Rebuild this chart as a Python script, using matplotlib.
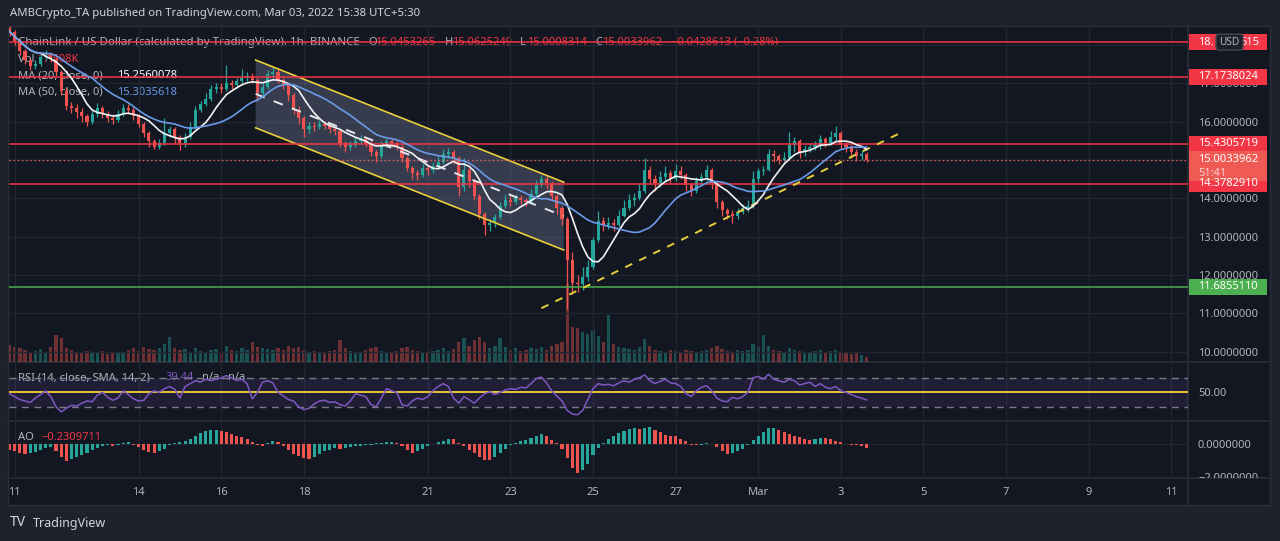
import numpy as np
import pandas as pd
import matplotlib
matplotlib.use("Agg")
import matplotlib.pyplot as plt
from matplotlib.patches import Rectangle, FancyBboxPatch
from matplotlib.transforms import Bbox, TransformedBbox

plt.rcParams['font.family'] = ['Noto Sans', 'DejaVu Sans']

# ---------------- data (3-hour candles) ----------------
first_open = 18.45
closes = [
    18.35, 18.10, 17.85, 17.60, 17.45, 17.50, 17.70, 17.75, 17.65, 17.30,
    16.80, 16.40, 16.35, 16.25, 16.15, 16.00, 16.20, 16.35, 16.20, 16.10,
    16.05, 16.20, 16.35, 16.30, 16.15, 15.95, 15.70, 15.50, 15.35, 15.45,
    15.70, 15.80, 15.60, 15.45, 15.60, 15.85, 16.30, 16.45, 16.60, 16.85,
    16.90, 16.85, 17.00, 16.95, 17.05, 17.15, 17.20, 17.10, 16.75, 16.90,
    17.25, 17.30, 17.10, 16.95, 16.70, 16.30, 16.10, 15.80, 15.90, 15.85,
    15.95, 15.90, 15.80, 15.75, 15.45, 15.35, 15.40, 15.50, 15.55, 15.45,
    15.20, 15.10, 15.40, 15.50, 15.45, 15.35, 15.05, 14.80, 14.65, 14.60,
    14.80, 14.75, 14.85, 14.95, 15.15, 15.20, 15.05, 14.30, 14.75, 14.45,
    14.05, 13.60, 13.30, 13.35, 13.50, 13.80, 13.95, 13.90, 14.00, 13.95,
    13.90, 14.10, 14.35, 14.50, 14.40, 14.05, 13.75, 13.45, 12.40, 11.80,
    11.75, 11.95, 12.20, 12.90, 13.40, 13.30, 13.35, 13.30, 13.55, 13.75,
    13.95, 14.00, 14.20, 14.75, 14.50, 14.40, 14.55, 14.65, 14.50, 14.70,
    14.60, 14.35, 14.20, 14.45, 14.55, 14.75, 14.40, 13.90, 13.70, 13.60,
    13.55, 13.65, 13.75, 13.80, 14.50, 14.70, 14.75, 15.15, 15.10, 15.00,
    15.05, 15.40, 15.50, 15.20, 15.30, 15.35, 15.40, 15.55, 15.45, 15.60,
    15.70, 15.40, 15.35, 15.20, 15.10, 15.15, 15.0034]
highs = [
    18.50, 18.40, 18.15, 17.90, 17.65, 17.60, 17.82, 17.88, 17.82, 17.70,
    17.35, 16.90, 16.52, 16.45, 16.35, 16.20, 16.30, 16.50, 16.42, 16.28,
    16.20, 16.30, 16.47, 16.45, 16.38, 16.20, 16.00, 15.75, 15.55, 15.55,
    16.10, 15.90, 15.85, 15.65, 15.70, 16.00, 16.40, 16.55, 16.75, 16.95,
    17.00, 17.00, 17.48, 17.10, 17.15, 17.37, 17.30, 17.28, 17.15, 17.00,
    17.35, 17.43, 17.40, 17.15, 17.00, 16.75, 16.40, 16.15, 16.00, 16.00,
    16.05, 16.02, 15.95, 15.90, 15.80, 15.50, 15.50, 15.60, 15.65, 15.60,
    15.50, 15.25, 15.50, 15.58, 15.55, 15.50, 15.40, 15.10, 14.85, 14.75,
    14.90, 14.90, 14.95, 15.10, 15.30, 15.32, 15.25, 15.10, 15.05, 14.80,
    14.50, 14.10, 13.65, 13.45, 13.60, 13.90, 14.10, 14.05, 14.12, 14.08,
    14.02, 14.25, 14.48, 14.60, 14.62, 14.45, 14.10, 13.80, 13.50, 12.60,
    12.00, 12.20, 12.40, 13.00, 13.68, 13.50, 13.50, 13.45, 13.70, 13.95,
    14.10, 14.15, 14.40, 15.05, 14.85, 14.60, 14.70, 14.85, 14.75, 14.90,
    14.85, 14.65, 14.40, 14.55, 14.65, 14.88, 14.80, 14.45, 13.95, 13.75,
    13.70, 13.75, 13.85, 13.95, 14.70, 14.80, 14.85, 15.30, 15.25, 15.15,
    15.20, 15.72, 15.60, 15.55, 15.40, 15.45, 15.50, 15.65, 15.60, 15.75,
    15.88, 15.75, 15.48, 15.40, 15.30, 15.25, 15.20]
lows = [
    18.25, 18.00, 17.75, 17.50, 17.35, 17.38, 17.45, 17.62, 17.55, 17.20,
    16.70, 16.30, 16.22, 16.10, 16.00, 15.90, 15.95, 16.12, 16.10, 16.00,
    15.95, 16.00, 16.15, 16.20, 16.05, 15.85, 15.60, 15.35, 15.28, 15.30,
    15.40, 15.60, 15.45, 15.26, 15.35, 15.55, 15.80, 16.25, 16.40, 16.55,
    16.75, 16.75, 16.80, 16.85, 16.88, 17.00, 17.05, 17.00, 16.55, 16.65,
    16.85, 17.15, 17.00, 16.85, 16.55, 16.20, 15.95, 15.60, 15.70, 15.75,
    15.80, 15.80, 15.70, 15.65, 15.35, 15.20, 15.25, 15.35, 15.42, 15.35,
    15.10, 14.95, 15.05, 15.35, 15.35, 15.25, 14.95, 14.70, 14.50, 14.47,
    14.55, 14.62, 14.65, 14.80, 14.90, 15.05, 14.90, 14.05, 14.20, 14.30,
    13.95, 13.45, 13.05, 13.15, 13.25, 13.45, 13.75, 13.80, 13.85, 13.85,
    13.80, 13.85, 14.05, 14.30, 14.25, 13.95, 13.60, 13.30, 11.10, 11.50,
    11.55, 11.60, 11.85, 12.15, 12.85, 13.15, 13.20, 13.15, 13.25, 13.50,
    13.70, 13.80, 13.95, 14.15, 14.40, 14.20, 14.30, 14.45, 14.40, 14.45,
    14.50, 14.20, 14.05, 14.15, 14.35, 14.45, 14.25, 13.75, 13.55, 13.45,
    13.35, 13.45, 13.60, 13.65, 13.75, 14.40, 14.60, 14.70, 14.95, 14.90,
    14.95, 15.00, 15.20, 15.05, 15.10, 15.20, 15.25, 15.30, 15.35, 15.40,
    15.50, 15.30, 15.20, 15.05, 14.98, 15.00, 14.95]
volumes_k = [
    170, 150, 140, 120, 100, 110, 130, 100, 150,
    270, 240,
    140, 120, 100, 90, 110, 100, 90, 110, 80, 90,
    100, 90, 120, 140, 110, 150, 130, 120, 140, 180,
    250, 140, 120, 130, 100, 140, 110, 100, 120, 130,
    100, 160, 120, 110, 140, 120, 200, 150, 140, 130,
    120, 140, 120, 160, 140, 150, 120, 100, 110, 90,
    100, 110, 120, 220, 140, 110, 100, 90, 120, 140,
    150, 110, 100, 90, 110, 140, 150, 120, 110, 100,
    90, 110, 120, 140, 110, 130, 200, 240, 160, 220,
    250, 200, 140, 160, 240, 150, 120, 140, 110, 120,
    140, 130, 150, 120, 160, 180, 200,
    780, 350, 340, 300, 280, 320, 260, 200, 470, 180,
    150, 140, 130, 120, 150, 230, 160, 120, 110, 100,
    120, 110, 100, 120, 110, 100, 110, 120, 140, 160,
    130, 110, 100, 120, 110, 120, 180, 150, 270, 160,
    120, 110, 100, 140, 120, 110, 100, 90, 110, 120,
    100, 110, 120, 100, 90, 80, 90, 70, 50]
rsi_values = [
    48, 44, 40, 38, 36, 42, 47, 52, 44, 30,
    23, 28, 32, 31, 35, 38, 37, 46, 50, 43,
    39, 42, 52, 47, 41, 38, 39, 48, 52, 50,
    55, 58, 54, 42, 58, 62, 66, 64, 68, 66,
    68, 70, 73, 70, 66, 68, 62, 41, 50, 64,
    66, 63, 50, 45, 40, 38, 30, 26, 28, 34,
    38, 39, 36, 37, 33, 31, 38, 48, 46, 44,
    33, 30, 42, 55, 52, 50, 33, 31, 38, 42,
    40, 44, 52, 58, 62, 58, 42, 35, 44, 40,
    35, 42, 48, 51, 47, 50, 53, 55, 54, 57,
    56, 62, 69, 71, 63, 52, 45, 38, 25, 20,
    19, 25, 40, 55, 62, 60, 61, 59, 63, 66,
    64, 68, 70, 74, 66, 62, 65, 68, 63, 62,
    58, 48, 44, 52, 57, 59, 52, 42, 38, 37,
    43, 41, 44, 50, 70, 72, 68, 75, 68, 66,
    64, 68, 66, 60, 62, 64, 58, 62, 57, 55,
    58, 52, 50, 47, 44, 42, 39.44]
ao_values = [
    -0.35, -0.45, -0.55, -0.60, -0.58, -0.50, -0.38, -0.25, -0.20, -0.45,
    -0.80, -1.05, -0.95, -0.80, -0.70, -0.55, -0.40, -0.25, -0.15, -0.10,
    -0.12, -0.05, 0.05, 0.08, -0.05, -0.20, -0.35, -0.50, -0.55, -0.45,
    -0.30, -0.10, 0.05, 0.10, 0.15, 0.30, 0.50, 0.65, 0.75, 0.82,
    0.85, 0.80, 0.72, 0.60, 0.50, 0.40, 0.30, 0.10, -0.10, -0.15,
    0.05, 0.18, 0.10, -0.15, -0.40, -0.60, -0.75, -0.88, -0.92, -0.80,
    -0.60, -0.45, -0.35, -0.25, -0.30, -0.28, -0.20, -0.15, -0.12, -0.10,
    -0.05, 0.02, 0.05, 0.08, 0.10, 0.02, -0.15, -0.40, -0.55, -0.45,
    -0.30, -0.15, 0.00, 0.10, 0.20, 0.30, 0.28, 0.05, -0.15, -0.35,
    -0.55, -0.80, -0.98, -1.00, -0.80, -0.55, -0.30, -0.10, 0.05, 0.15,
    0.25, 0.35, 0.50, 0.60, 0.45, 0.25, 0.05, -0.30, -0.85, -1.45,
    -1.78, -1.60, -1.20, -0.70, -0.25, 0.05, 0.30, 0.50, 0.65, 0.78,
    0.90, 0.95, 0.90, 0.98, 1.00, 0.85, 0.70, 0.55, 0.50, 0.45,
    0.30, 0.15, -0.05, -0.10, -0.05, 0.05, 0.00, -0.20, -0.45, -0.62,
    -0.55, -0.45, -0.30, -0.10, 0.25, 0.50, 0.70, 0.95, 0.95, 0.85,
    0.70, 0.60, 0.50, 0.40, 0.30, 0.25, 0.30, 0.35, 0.33, 0.28,
    0.20, 0.10, 0.00, -0.05, -0.10, -0.15, -0.23]

start_time = '2022-02-10 21:00'
bar_freq = '3h'
tick_dates = ['2022-02-11', '2022-02-14', '2022-02-16', '2022-02-18', '2022-02-21',
              '2022-02-23', '2022-02-25', '2022-02-27', '2022-03-01', '2022-03-03',
              '2022-03-05', '2022-03-07', '2022-03-09', '2022-03-11']
tick_labels = ['11', '14', '16', '18', '21', '23', '25', '27', 'Mar', '3', '5', '7', '9', '11']
price_ticks = [10, 11, 12, 13, 14, 16, 17]     # 15 and 18 are hidden behind price labels
hidden_price_ticks = [15, 18]

resistance_levels = [18.0781515, 17.1738024, 15.4305719, 14.3782910]
support_level = 11.6855110
last_price = 15.0033962

channel_times = ['2022-02-16 20:00', '2022-02-24 07:00']
channel_upper = [17.61, 14.42]
channel_lower = [15.84, 12.65]
trend_times = ['2022-02-23 18:00', '2022-03-04 13:00']
trend_prices = [11.13, 15.76]

ma_fast_bars, ma_slow_bars = 7, 17      # 20h and 50h on 3h bars

# ---------------- derived series ----------------
T0 = pd.Timestamp('2022-02-11')
def days(ts):
    return ((pd.to_datetime(ts) - T0) / pd.Timedelta('1D'))

times = pd.date_range(start_time, periods=len(closes), freq=bar_freq)
t = np.asarray(days(times), dtype=float)
c = np.array(closes)
o = np.r_[first_open, c[:-1]]
h = np.maximum(np.array(highs), np.maximum(o, c))
l = np.minimum(np.array(lows), np.minimum(o, c))
cs = pd.Series(c)
ma20 = cs.rolling(ma_fast_bars, min_periods=1).mean().to_numpy()
ma50 = cs.rolling(ma_slow_bars, min_periods=1).mean().to_numpy()
ao_arr = np.array(ao_values)

# ---------------- style ----------------
UP, DN = '#26a69a', '#ef5350'
RED, GREEN = '#f23645', '#4caf50'
TXT, TXT2 = '#b2b5be', '#d1d4dc'
GRID = '#222631'
SEP = '#2a2e39'

W, H = 1280, 541
fig = plt.figure(figsize=(W / 100, H / 100), dpi=100, facecolor='#1e222d')

def rect(x0, y0, x1, y1):
    return [x0 / W, 1 - y1 / H, (x1 - x0) / W, (y1 - y0) / H]

CH_L, CH_R, AX_R = 9, 1188, 1270
TOP, MAIN_B, RSI_B, AO_B, TIME_B = 26, 362, 421, 478, 505
XMIN, XMAX = -0.138, 28.404

bg = fig.add_axes([0, 0, 1, 1])
bg.set_xlim(0, W); bg.set_ylim(H, 0); bg.axis('off')
bg.add_patch(Rectangle((CH_L - 1, TOP), AX_R - CH_L + 1, TIME_B - TOP,
                       fc='#131722', ec=SEP, lw=1))
for yy in (MAIN_B, RSI_B, AO_B):
    bg.plot([CH_L - 1, AX_R], [yy, yy], color=SEP, lw=1.2)
bg.plot([CH_R, CH_R], [TOP, TIME_B], color=SEP, lw=1.2)

renderer = fig.canvas.get_renderer()
def text_w(s, fs, weight='normal'):
    tt = bg.text(0, 0, s, fontsize=fs, fontweight=weight)
    w = tt.get_window_extent(renderer).width
    tt.remove()
    return w

FS = 10 * 60 / text_w('15.0453265', 10)

ticks_x = np.asarray(days(tick_dates), dtype=float)

# volume (behind candles)
vol = fig.add_axes(rect(CH_L, TOP, CH_R, MAIN_B))
vol.set_xlim(XMIN, XMAX); vol.set_ylim(0, 3360); vol.axis('off')
up = c >= o
vcols = [(0.149, 0.651, 0.604, 0.42) if u else (0.937, 0.325, 0.314, 0.42) for u in up]
vol.bar(t, volumes_k, width=0.08, color=vcols, lw=0)

# main pane
main = fig.add_axes(rect(CH_L, TOP, CH_R, MAIN_B))
main.set_facecolor('none')
main.set_xlim(XMIN, XMAX); main.set_ylim(9.726, 18.499)
for s in main.spines.values():
    s.set_visible(False)
main.set_xticks(ticks_x); main.set_xticklabels([])
main.set_yticks(price_ticks)
main.set_yticklabels(['%.7f' % v for v in price_ticks])
main.set_yticks(hidden_price_ticks, minor=True)
main.yaxis.tick_right()
main.tick_params(axis='both', which='both', length=0)
main.tick_params(axis='y', pad=7.2, labelsize=FS, labelcolor=TXT)
main.grid(True, which='both', color=GRID, lw=1)
main.set_axisbelow(True)

ct = np.asarray(days(channel_times), dtype=float)
main.fill([ct[0], ct[1], ct[1], ct[0]],
          [channel_upper[0], channel_upper[1], channel_lower[1], channel_lower[0]],
          color='#8a8fb5', alpha=0.3, lw=0, zorder=1.2)
main.plot(ct, channel_upper, color='#e9cf3c', lw=1.2, zorder=3)
main.plot(ct, channel_lower, color='#e9cf3c', lw=1.2, zorder=3)
main.plot(ct, [(a + b) / 2 for a, b in zip(channel_upper, channel_lower)],
          color='#e6e8ee', lw=1.4, ls=(0, (5, 5)), zorder=3)

cols = [UP if u else DN for u in up]
main.vlines(t, l, h, colors=cols, lw=0.9, zorder=2)
body = np.where(np.abs(c - o) < 0.02, 0.02, c - o)
main.bar(t, body, bottom=o, width=0.075, color=cols, lw=0, zorder=2.1)

main.plot(t, ma20, color='#f2f3f5', lw=1.2, zorder=4)
main.plot(t, ma50, color='#6a9be8', lw=1.2, zorder=4)

for lv in resistance_levels:
    main.axhline(lv, color=RED, lw=1.1, zorder=3.5)
main.axhline(support_level, color=GREEN, lw=1.1, zorder=3.5)
main.axhline(last_price, color='#f0605a', lw=1.0, ls=(0, (1, 2)), zorder=3.5)
main.plot(np.asarray(days(trend_times), dtype=float), trend_prices,
          color='#e6cf3a', lw=1.4, ls=(0, (4, 4)), zorder=3.6)

# RSI pane
rsi = fig.add_axes(rect(CH_L, MAIN_B, CH_R, RSI_B))
rsi.set_facecolor('none')
rsi.set_xlim(XMIN, XMAX); rsi.set_ylim(10.4, 91.8)
for s in rsi.spines.values():
    s.set_visible(False)
rsi.set_xticks(ticks_x); rsi.set_xticklabels([])
rsi.set_yticks([50]); rsi.set_yticklabels(['50.00'])
rsi.yaxis.tick_right()
rsi.tick_params(axis='both', length=0)
rsi.tick_params(axis='y', pad=7.2, labelsize=FS, labelcolor=TXT)
rsi.grid(True, axis='x', color=GRID, lw=1)
rsi.set_axisbelow(True)
rsi.axhspan(30, 70, color='#7e57c2', alpha=0.12, lw=0)
rsi.axhline(70, color='#787b86', lw=1, ls=(0, (5, 4)))
rsi.axhline(30, color='#787b86', lw=1, ls=(0, (5, 4)))
rsi.axhline(50, color='#f5d33a', lw=1.3)
rsi.plot(t, rsi_values, color='#7e57c2', lw=1.1)

# AO pane
ao = fig.add_axes(rect(CH_L, RSI_B, CH_R, AO_B))
ao.set_facecolor('none')
ao.set_xlim(XMIN, XMAX); ao.set_ylim(-2.079, 1.386)
for s in ao.spines.values():
    s.set_visible(False)
ao.set_xticks(ticks_x); ao.set_xticklabels(tick_labels)
ao.set_yticks([0, -2]); ao.set_yticklabels(['0.0000000', '\u22122.0000000'])
ao.yaxis.tick_right()
ao.tick_params(axis='both', length=0)
ao.tick_params(axis='y', pad=7.2, labelsize=FS, labelcolor=TXT)
ao.tick_params(axis='x', pad=6.5, labelsize=FS, labelcolor=TXT)
ao.grid(True, color=GRID, lw=1)
ao.set_axisbelow(True)
ao_cols = [UP if (i > 0 and ao_arr[i] >= ao_arr[i - 1]) else DN for i in range(len(ao_arr))]
ao.bar(t, ao_arr, width=0.075, color=ao_cols, lw=0)
clipbox = TransformedBbox(Bbox([[0, 0], [1.08, 1]]), ao.transAxes)
for lbl in ao.get_yticklabels():
    lbl.set_clip_box(clipbox); lbl.set_clip_on(True)

# ---------------- legends / header text (under the marks) ----------------
hdr = 'AMBCrypto_TA published on TradingView.com, Mar 03, 2022 15:38 UTC+5:30'
bg.text(10, 13.5, hdr, fontsize=10 * 408 / text_w(hdr, 10), color=TXT2, va='center')

def seg(x, y, s, color, weight='normal', fs=FS):
    bg.text(x, y, s, fontsize=fs, color=color, va='center', ha='left', fontweight=weight)

title = 'ChainLink / US Dollar (calculated by TradingView), 1h, BINANCE'
seg(18, 42.5, title, TXT, fs=10 * 342 / text_w(title, 10))
seg(368, 42.5, 'O', TXT); seg(375, 42.5, '15.0453265', RED)
seg(445, 42.5, 'H', TXT); seg(452, 42.5, '15.0625249', RED)
seg(520, 42.5, 'L', TXT); seg(527, 42.5, '15.0008314', RED)
seg(595, 42.5, 'C', TXT); seg(602, 42.5, '15.0033962', RED)
seg(671, 42.5, '\u22120.0428613 (\u22120.28%)', RED)
seg(18, 59, 'Vol', TXT); seg(37, 59, '17.508K', RED)
seg(18, 76, 'MA (20, close, 0)', TXT); seg(117, 76, '15.2560078', '#ffffff', 'bold')
seg(18, 92.5, 'MA (50, close, 0)', TXT); seg(117, 92.5, '15.3035618', '#6a9be8')
seg(18, 378, 'RSI (14, close, SMA, 14, 2)', TXT); seg(166, 378, '39.44', '#7e57c2')
seg(202, 378, 'n/a', TXT); seg(228, 378, 'n/a', TXT)
seg(18, 437, 'AO', TXT); seg(41, 437, '\u22120.2309711', RED)

bg.text(10, 523, 'TV', fontsize=FS * 1.25, fontweight='heavy', color=TXT2, va='center')
bg.text(33, 523, 'TradingView', fontsize=FS * 1.12, color=TXT2, va='center')

# ---------------- price-axis labels (overlay) ----------------
ov = fig.add_axes([0, 0, 1, 1])
ov.set_xlim(0, W); ov.set_ylim(H, 0); ov.axis('off')

def py(p):
    disp = main.transData.transform((0, p))
    return ov.transData.inverted().transform(disp)[1]

def price_box(p, text, fc):
    yy = py(p)
    ov.add_patch(Rectangle((CH_R + 0.5, yy - 8), 78, 16, fc=fc, ec='none', zorder=2))
    ov.text(1198, yy, text, fontsize=FS, color='white', fontweight='bold', va='center', zorder=3)

for lv in resistance_levels[1:]:
    price_box(lv, '%.7f' % lv, RED)
price_box(support_level, '%.7f' % support_level, GREEN)

# top level: its label is partly hidden by the currency badge ("18." ... "515")
top_txt = '%.7f' % resistance_levels[0]
yy = py(resistance_levels[0])
ov.add_patch(Rectangle((CH_R + 0.5, yy - 8), 78, 16, fc=RED, ec='none', zorder=2))
ov.text(1198, yy, top_txt[:3], fontsize=FS, color='white', fontweight='bold', va='center', zorder=3)
ov.text(1259, yy, top_txt[-3:], fontsize=FS, color='white', fontweight='bold', va='center',
        ha='right', zorder=3)
ov.add_patch(FancyBboxPatch((1216, yy - 8), 27, 16, boxstyle='round,pad=0,rounding_size=3',
                            fc='#1e222d', ec='#434651', lw=1, zorder=5))
ov.text(1229.5, yy, 'USD', fontsize=FS * 0.9, color=TXT, va='center', ha='center', zorder=6)

yy = py(last_price)
ov.add_patch(Rectangle((CH_R + 0.5, yy - 8.7), 78, 30, fc='#ef5a55', ec='none', zorder=2))
ov.text(1198, yy, '%.7f' % last_price, fontsize=FS, color='white', fontweight='bold', va='center', zorder=3)
ov.text(1198, yy + 13.5, '51:41', fontsize=FS, color='#f7d3d2', fontweight='bold', va='center', zorder=3)

fig.savefig('out.png', dpi=100, facecolor=fig.get_facecolor())
